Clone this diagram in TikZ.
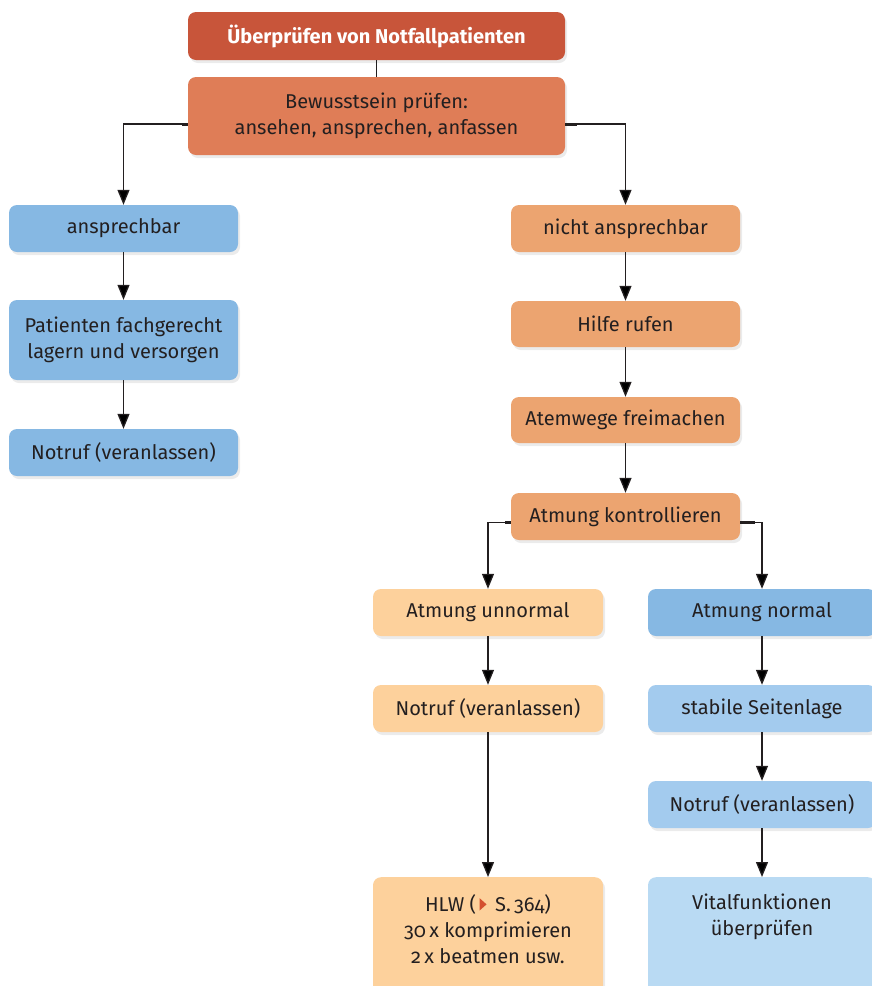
\documentclass[tikz,border=0pt]{standalone}
\usepackage{fontspec}
\setmainfont{Fira Sans}[Numbers=OldStyle]
\usepackage{tikz}
\usetikzlibrary{arrows.meta,shadows}

\definecolor{titelrot}{HTML}{C8553A}
\definecolor{bewusstorange}{HTML}{DF7D57}
\definecolor{orangebox}{HTML}{ECA470}
\definecolor{pfirsich}{HTML}{FDD19C}
\definecolor{blaubox}{HTML}{86B8E3}
\definecolor{blaumittel}{HTML}{A3CBEE}
\definecolor{blauhell}{HTML}{B9DAF3}
\definecolor{textgrau}{HTML}{231F20}
\definecolor{pfeilrot}{HTML}{D4502F}

\begin{document}
\begin{tikzpicture}[x=1pt,y=-1pt,>={Triangle[width=12pt,length=15pt]},
    box/.style={rectangle,rounded corners=8pt,minimum width=229pt,minimum height=47pt,
        align=center,inner sep=4pt,text=textgrau,font=\fontsize{20}{26.5}\selectfont,
        drop shadow={opacity=0.16,shadow xshift=2pt,shadow yshift=-3pt}},
    boxtext/.style={align=center,inner sep=4pt,text=textgrau,font=\fontsize{20}{26}\selectfont},
    arr/.style={->,line width=1.3pt,draw=textgrau},
    line/.style={line width=1.3pt,draw=textgrau},
    stub/.style={line width=3pt,draw=textgrau}]
    \useasboundingbox (0,0) rectangle (872,986);
    \clip (0,0) rectangle (872,986);

    % Kopf
    \node [box,fill=titelrot,text=white,minimum width=377pt,minimum height=48pt,
        font=\fontsize{20}{26}\selectfont\bfseries] (titel) at (376.5,36) {Überprüfen von Notfallpatienten};
    \node [box,fill=bewusstorange,minimum width=377pt,minimum height=78pt] (bewusst) at (376.5,116)
        {Bewusstsein prüfen:\\ansehen, ansprechen, anfassen};

    % links: ansprechbar
    \node [box,fill=blaubox] (ansp) at (123.5,228.5) {ansprechbar};
    \node [box,fill=blaubox,minimum height=80pt] (lagern) at (123.5,340) {Patienten fachgerecht\\lagern und versorgen};
    \node [box,fill=blaubox] (notrufL) at (123.5,452.5) {Notruf (veranlassen)};

    % rechts: nicht ansprechbar
    \node [box,fill=orangebox] (nicht) at (625.5,228.5) {nicht ansprechbar};
    \node [box,fill=orangebox,minimum height=46pt] (hilfe) at (625.5,324) {Hilfe rufen};
    \node [box,fill=orangebox,minimum height=46pt] (atemwege) at (625.5,420) {Atemwege freimachen};
    \node [box,fill=orangebox] (kontrolle) at (625.5,516.5) {Atmung kontrollieren};

    % Atmung unnormal
    \node [box,fill=pfirsich,minimum width=230pt] (unnormal) at (488,612.5) {Atmung unnormal};
    \node [box,fill=pfirsich,minimum width=230pt] (notrufM) at (488,708.5) {Notruf (veranlassen)};
    \node [box,fill=pfirsich,minimum width=230pt,minimum height=118pt,anchor=north] (hlw) at (488,877) {};
    \node [boxtext,anchor=north] (hlwtext) at ([yshift=-13pt]hlw.north)
        {HLW (\,\tikz[x=1pt,y=1pt,baseline=0pt]\fill[pfeilrot] (0,0.5) -- (0,13) -- (7,6.75) -- cycle;\, S.\,364)\\
         30\,x komprimieren\\2\,x beatmen usw.};

    % Atmung normal
    \node [box,fill=blaubox,minimum width=228pt] (normal) at (762,612.5) {Atmung normal};
    \node [box,fill=blaumittel,minimum width=228pt] (seite) at (762,708.5) {stabile Seitenlage};
    \node [box,fill=blaumittel,minimum width=228pt] (notrufR) at (762,804.5) {Notruf (veranlassen)};
    \node [box,fill=blauhell,minimum width=228pt,minimum height=118pt,anchor=north] (vital) at (762,877) {};
    \node [boxtext,anchor=north] (vitaltext) at ([yshift=-13pt]vital.north) {Vitalfunktionen\\überprüfen};

    % Verbindungen
    \draw [line] (titel) -- (bewusst);
    \draw [arr] ([yshift=-8pt]bewusst.west) -| (ansp.north);
    \draw [arr] ([yshift=-8pt]bewusst.east) -| (nicht.north);
    \draw [stub] ([yshift=-8pt]bewusst.west) -- ++(-6,0);
    \draw [stub] ([yshift=-8pt]bewusst.east) -- ++(12,0);
    \draw [arr] (ansp) -- (lagern);
    \draw [arr] (lagern) -- (notrufL);
    \draw [arr] (nicht) -- (hilfe);
    \draw [arr] (hilfe) -- (atemwege);
    \draw [arr] (atemwege) -- (kontrolle);
    \draw [arr] ([yshift=-6pt]kontrolle.west) -| (unnormal.north);
    \draw [arr] ([yshift=-6pt]kontrolle.east) -| (normal.north);
    \draw [stub] ([yshift=-6pt]kontrolle.west) -- ++(-6,0);
    \draw [stub] ([yshift=-6pt]kontrolle.east) -- ++(15,0);
    \draw [arr] (unnormal) -- (notrufM);
    \draw [arr] (notrufM) -- (hlw);
    \draw [arr] (normal) -- (seite);
    \draw [arr] (seite) -- (notrufR);
    \draw [arr] (notrufR) -- (vital);
\end{tikzpicture}
\end{document}
